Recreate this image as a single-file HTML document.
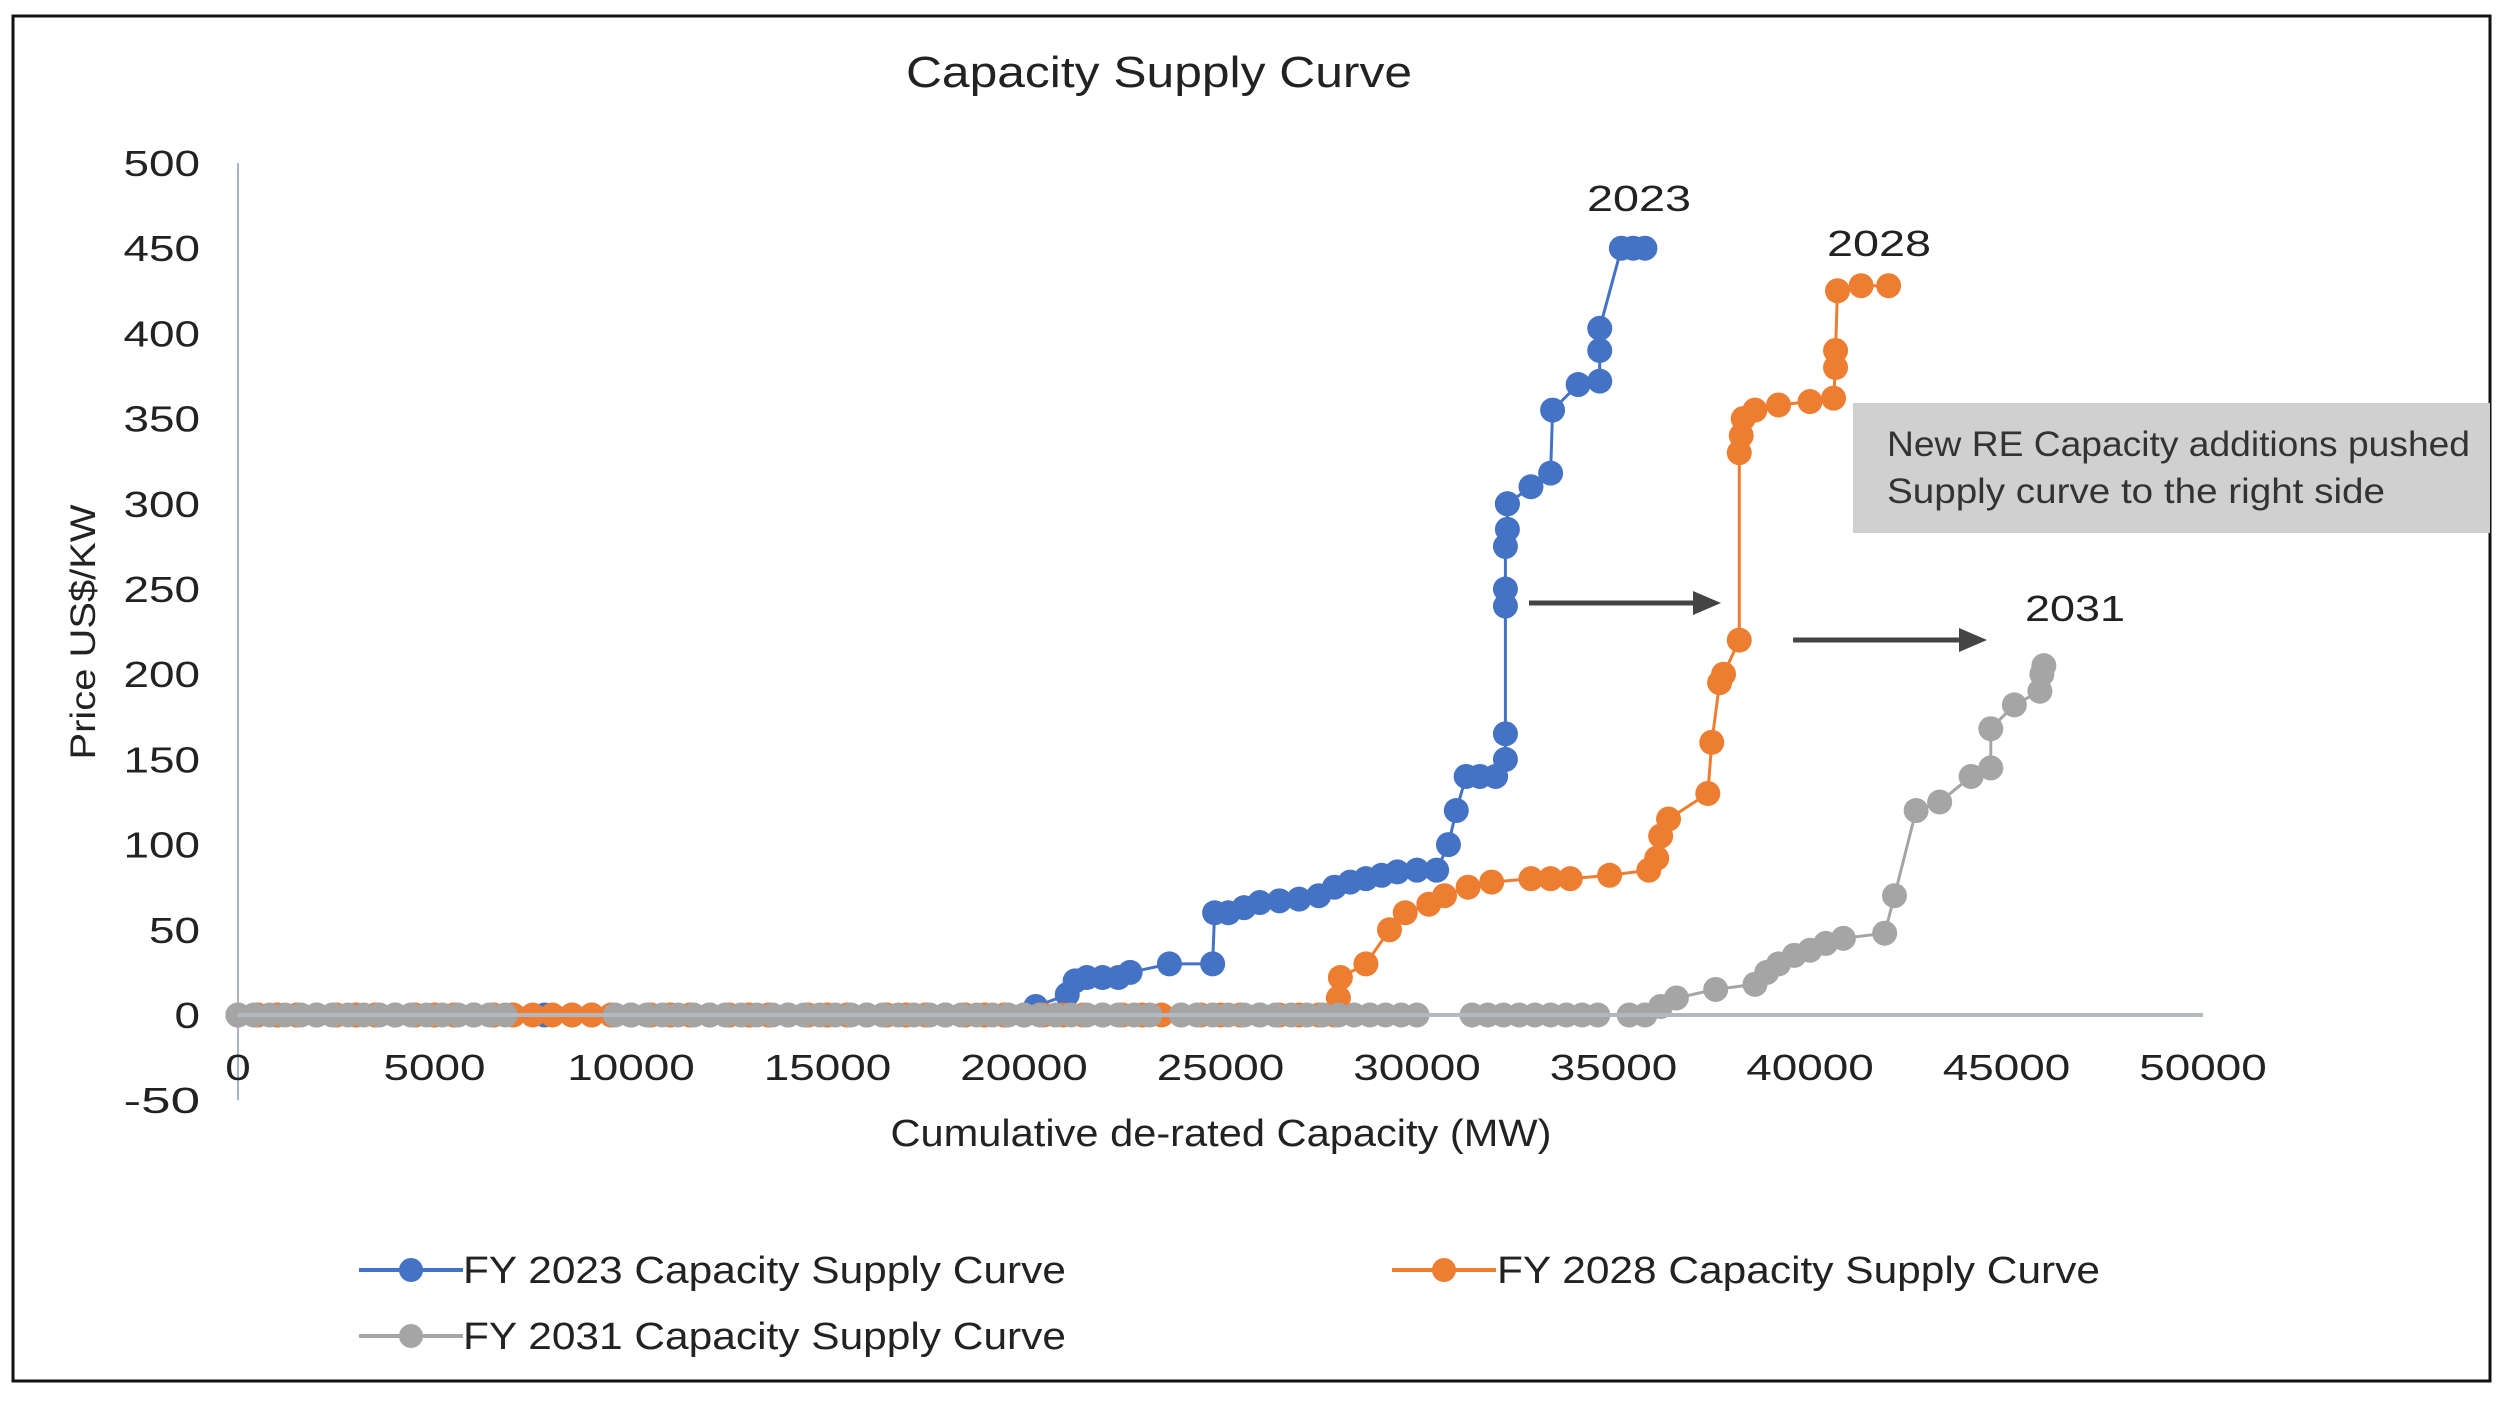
<!DOCTYPE html>
<html><head><meta charset="utf-8"><style>
html,body{margin:0;padding:0;background:#fff;width:2503px;height:1402px;overflow:hidden}
svg{display:block;font-family:"Liberation Sans",sans-serif}
</style></head><body>
<svg id="chart" width="2503" height="1402" viewBox="0 0 2503 1402">
<rect x="13" y="16" width="2477" height="1365" fill="#fff" stroke="#111" stroke-width="3"/>
<text x="1159" y="87" text-anchor="middle" font-size="44" fill="#222" textLength="506" lengthAdjust="spacingAndGlyphs">Capacity Supply Curve</text>
<g id="plot"></g>
<rect x="1853" y="403" width="637" height="130" fill="#d0d0d0"/>
<text x="1887" y="456" font-size="35" fill="#333" textLength="583" lengthAdjust="spacingAndGlyphs">New RE Capacity additions pushed</text>
<text x="1887" y="503" font-size="35" fill="#333" textLength="498" lengthAdjust="spacingAndGlyphs">Supply curve to the right side</text>
<text x="1639" y="211" text-anchor="middle" font-size="36" fill="#222" textLength="104" lengthAdjust="spacingAndGlyphs">2023</text>
<text x="1879" y="256" text-anchor="middle" font-size="36" fill="#222" textLength="104" lengthAdjust="spacingAndGlyphs">2028</text>
<text x="2075" y="621" text-anchor="middle" font-size="36" fill="#222" textLength="100" lengthAdjust="spacingAndGlyphs">2031</text>
<g>
<line x1="1529" y1="603" x2="1695" y2="603" stroke="#444" stroke-width="5"/>
<polygon points="1721,603 1693,591 1693,615" fill="#444"/></g>
<g>
<line x1="1793" y1="640" x2="1961" y2="640" stroke="#444" stroke-width="5"/>
<polygon points="1987,640 1959,628 1959,652" fill="#444"/></g>
<text x="1221" y="1146" text-anchor="middle" font-size="38" fill="#222" textLength="661" lengthAdjust="spacingAndGlyphs">Cumulative de-rated Capacity (MW)</text>
<text transform="translate(95,632) rotate(-90)" text-anchor="middle" font-size="35" fill="#222" textLength="255" lengthAdjust="spacingAndGlyphs">Price US$/KW</text>
<g>
<g>
<line x1="359" y1="1270" x2="463" y2="1270" stroke="#4472C4" stroke-width="4"/><circle cx="411" cy="1270" r="12" fill="#4472C4"/>
<text x="463" y="1283" font-size="38" fill="#222" textLength="603" lengthAdjust="spacingAndGlyphs">FY 2023 Capacity Supply Curve</text></g>
<g>
<line x1="1392" y1="1270" x2="1496" y2="1270" stroke="#ED7D31" stroke-width="4"/><circle cx="1444" cy="1270" r="12" fill="#ED7D31"/>
<text x="1497" y="1283" font-size="38" fill="#222" textLength="603" lengthAdjust="spacingAndGlyphs">FY 2028 Capacity Supply Curve</text></g>
<g>
<line x1="359" y1="1336" x2="463" y2="1336" stroke="#A5A5A5" stroke-width="4"/><circle cx="411" cy="1336" r="12" fill="#A5A5A5"/>
<text x="463" y="1349" font-size="38" fill="#222" textLength="603" lengthAdjust="spacingAndGlyphs">FY 2031 Capacity Supply Curve</text></g>
</g>
</svg>
<script>
const xTicks=[0,5000,10000,15000,20000,25000,30000,35000,40000,45000,50000];
const yTicks=[-50,0,50,100,150,200,250,300,350,400,450,500];
const fy2023X=[0,500,1000,1500,2000,2500,3000,3500,4000,4500,5000,5500,6000,6500,7000,7800,8500,9000,9500,10000,10500,11000,11500,12000,12500,13000,13500,14000,14500,15000,15500,16000,16500,17000,17500,18000,18500,19000,19500,20000,20300,21100,21300,21600,22000,22400,22700,23700,24800,24850,25200,25600,26000,26500,27000,27500,27900,28300,28700,29100,29500,30000,30500,30800,31000,31250,31600,32000,32250,32250,32250,32250,32250,32300,32300,32300,32900,33400,33450,34100,34650,34650,34650,35200,35500,35800];
const fy2023Y=[0,0,0,0,0,0,0,0,0,0,0,0,0,0,0,0,0,0,0,0,0,0,0,0,0,0,0,0,0,0,0,0,0,0,0,0,0,0,0,0,5,12,20,22,22,22,25,30,30,60,60,63,66,67,68,70,75,78,80,82,84,85,85,100,120,140,140,140,150,165,240,250,275,285,300,300,310,318,355,370,372,390,403,450,450,450];
const fy2028X=[0,500,1000,1500,2000,2500,3000,3500,4000,4500,5000,5500,6000,6500,7000,7500,8000,8500,9000,9500,10000,10500,11000,11500,12000,12500,13000,13500,14000,14500,15000,15500,16000,16500,17000,17500,18000,18500,19000,19500,20000,20500,21000,21500,22000,22500,23000,23500,24000,24500,25000,25500,26000,26500,27000,27500,27900,28000,28050,28700,29300,29700,30300,30700,31300,31900,32900,33400,33900,34900,35900,36100,36200,36400,37400,37500,37700,37800,38200,38200,38250,38300,38600,39200,40000,40600,40650,40650,40700,41300,42000];
const fy2028Y=[0,0,0,0,0,0,0,0,0,0,0,0,0,0,0,0,0,0,0,0,0,0,0,0,0,0,0,0,0,0,0,0,0,0,0,0,0,0,0,0,0,0,0,0,0,0,0,0,0,0,0,0,0,0,0,0,0,10,22,30,50,60,65,70,75,78,80,80,80,82,85,92,105,115,130,160,195,200,220,330,340,350,355,358,360,362,380,390,425,428,428];
const fy2031X=[0,400,800,1200,1600,2000,2400,2800,3200,3600,4000,4400,4800,5200,5600,6000,6400,6800,9600,10000,10400,10800,11200,11600,12000,12400,12800,13200,13600,14000,14400,14800,15200,15600,16000,16400,16800,17200,17600,18000,18400,18800,19200,19600,20000,20400,20800,21200,21600,22000,22400,22800,23200,24000,24400,24800,25200,25600,26000,26400,26800,27200,27600,28000,28400,28800,29200,29600,30000,31400,31800,32200,32600,33000,33400,33800,34200,34600,35400,35800,36200,36600,37600,38600,38900,39200,39600,40000,40400,40850,41900,42150,42700,43300,44100,44600,44600,45200,45850,45900,45950];
const fy2031Y=[0,0,0,0,0,0,0,0,0,0,0,0,0,0,0,0,0,0,0,0,0,0,0,0,0,0,0,0,0,0,0,0,0,0,0,0,0,0,0,0,0,0,0,0,0,0,0,0,0,0,0,0,0,0,0,0,0,0,0,0,0,0,0,0,0,0,0,0,0,0,0,0,0,0,0,0,0,0,0,0,5,10,15,18,25,30,35,38,42,45,48,70,120,125,140,145,168,182,190,200,205];

const X0=238,X1=2203,Y0=1015,PX=(X1-X0)/50000,PY=852/500;
const xs=v=>X0+v*PX, ys=v=>Y0-v*PY;
const NS="http://www.w3.org/2000/svg";
const plot=document.getElementById('plot');
function mk(tag,attrs,parent){const e=document.createElementNS(NS,tag);for(const k in attrs)e.setAttribute(k,attrs[k]);(parent||plot).appendChild(e);return e;}

const yAxis=mk('line',{x1:X0,x2:X0,y1:ys(500),y2:ys(-50),stroke:'#a9b5c5','stroke-width':2});


yTicks.forEach(t=>{
  const s=String(t);
  const e=mk('text',{x:200,y:ys(t)+13,'text-anchor':'end','font-size':36,fill:'#222',textLength:s.length*25.5,lengthAdjust:'spacingAndGlyphs'});
  e.textContent=s;
  
  
});
xTicks.forEach(t=>{
  const s=String(t);
  const e=mk('text',{x:xs(t),y:1080,'text-anchor':'middle','font-size':36,fill:'#222',textLength:s.length*25.5,lengthAdjust:'spacingAndGlyphs'});
  e.textContent=s;
  
  
});
const series=[[fy2023X,fy2023Y,'#4472C4','fy2023'],[fy2028X,fy2028Y,'#ED7D31','fy2028'],[fy2031X,fy2031Y,'#A5A5A5','fy2031']];
series.forEach(([sx,sy,c,n])=>{
  const g=mk('g',{});
  
  
  const pts=sx.map((v,i)=>xs(v).toFixed(1)+','+ys(sy[i]).toFixed(1)).join(' ');
  const pl=mk('polyline',{points:pts,fill:'none',stroke:c,'stroke-width':3},g);
  
  
  sx.forEach((v,i)=>{
    const p=mk('circle',{cx:xs(v),cy:ys(sy[i]),r:12.5,fill:c},g);
    
    
  });
});
const xAxis=mk('line',{x1:xs(0),x2:xs(50000),y1:ys(0),y2:ys(0),stroke:'#b4b9c0','stroke-width':4});


</script>
</body></html>
